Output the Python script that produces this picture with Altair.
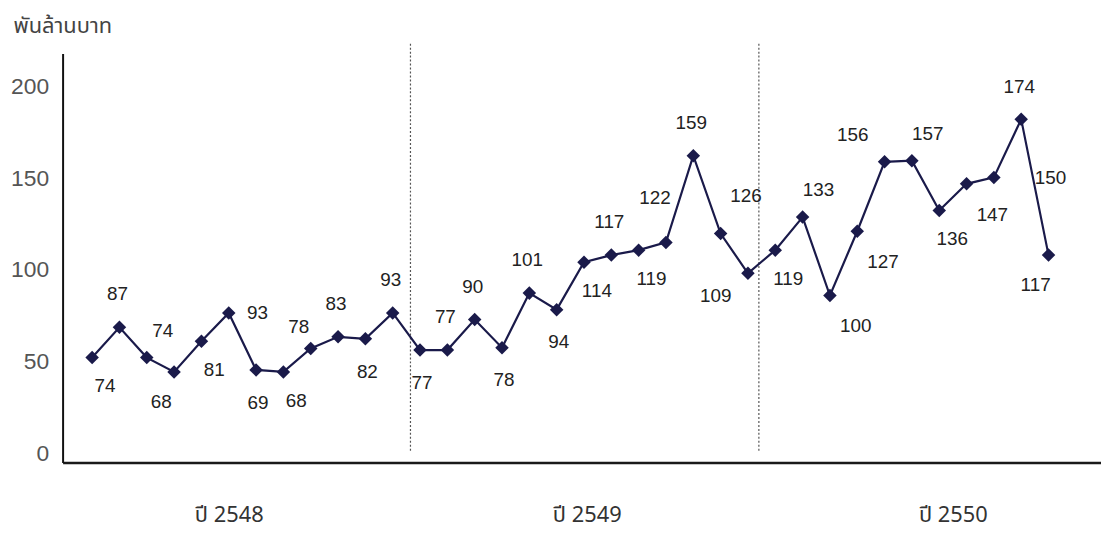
import altair as alt
import pandas as pd

# ---- data ----
months = list(range(1, 37))
plotted = [52.3, 68.8, 52.3, 44.5, 61.2, 76.6, 45.6, 44.5, 57.3, 63.6, 62.5, 76.6,
           56.4, 56.4, 73.0, 57.7, 87.4, 78.4, 104.2, 108.1, 110.8, 115.0, 162.2, 119.8,
           98.2, 110.8, 128.8, 86.1, 121.1, 158.9, 159.5, 132.4, 146.9, 150.4, 182.0, 108.1]
value_labels = [74, 87, 74, 68, 81, 93, 69, 68, 78, 83, 82, 93,
                77, 77, 90, 78, 101, 94, 114, 117, 119, 122, 159, 109,
                126, 119, 133, 100, 127, 156, 157, 136, 147, 150, 174, 117]
label_side = ["SE", "N", "NE", "SW", "SE", "E", "S", "SE", "NW", "N", "S", "N",
              "S", "N", "N", "S", "N", "S", "SE", "N", "SE", "NNW", "N", "S2",
              "N2", "SE", "NE", "SEE", "SEE", "NWW", "NE", "SE", "SEE", "E2", "N", "SW"]
years = ["ปี 2548", "ปี 2549", "ปี 2550"]
year_label_at = [6.0, 19.1, 32.5]
year_breaks = [12.65, 25.4]
y_ticks = [0, 50, 100, 150, 200]
unit_title = "พันล้านบาท"

# ---- styles ----
offsets = {
    "N": (-2, -33), "S": (2, 33), "NE": (16, -27), "NW": (-12, -22),
    "SE": (13, 29), "SW": (-13, 30), "SEE": (26, 31), "NWW": (-32, -27),
    "NNW": (-11, -45), "E": (29, 0), "E2": (57, 1), "N2": (-2, -78), "S2": (-5, 63),
}
NAVY = "#1a1a4a"
THAI_FONT = "Noto Sans Thai, Loma, Garuda, Tlwg Typo, Norasi, Liberation Sans, sans-serif"

df = pd.DataFrame({"m": months, "v": plotted, "lab": value_labels, "side": label_side})
seps = pd.DataFrame({"m": year_breaks})

xscale = alt.Scale(domain=[-0.08, 37.92], nice=False, zero=False)
yscale = alt.Scale(domain=[-4.86, 217.8], nice=False, zero=False)

label_expr = " : ".join(
    f"datum.value < {year_label_at[i] + 0.5} ? '{years[i]}'" for i in range(len(years) - 1)
) + f" : '{years[-1]}'"

x_axis = alt.Axis(values=year_label_at, labelExpr=label_expr, grid=False, ticks=False,
                  title=None, domainColor="#1a1a1a", domainWidth=2.5, labelFont=THAI_FONT,
                  labelFontSize=22, labelColor="#333", labelPadding=42)
y_axis = alt.Axis(values=y_ticks, grid=False, ticks=False, domainColor="#111", domainWidth=2,
                  labelFont="Liberation Sans", labelFontSize=23, labelColor="#555",
                  labelPadding=14, title=unit_title, titleAngle=0, titleAlign="left",
                  titleBaseline="middle", titleX=-50, titleY=-28, titleFont=THAI_FONT,
                  titleFontSize=22, titleFontWeight="normal", titleColor="#444")

base = alt.Chart(df)

line = base.mark_line(color=NAVY, strokeWidth=2.2).encode(
    x=alt.X("m:Q", scale=xscale, axis=x_axis),
    y=alt.Y("v:Q", scale=yscale, axis=y_axis),
)
points = base.mark_point(shape="diamond", filled=True, size=185, color=NAVY, opacity=1).encode(
    x=alt.X("m:Q", scale=xscale), y=alt.Y("v:Q", scale=yscale)
)

rules = alt.Chart(seps).mark_rule(color="#555", strokeDash=[2, 2], strokeWidth=1.2).encode(
    x=alt.X("m:Q", scale=xscale), y=alt.datum(1.6), y2=alt.datum(224.3)
)

text_layers = []
for side, (dx, dy) in offsets.items():
    text_layers.append(
        base.transform_filter(alt.datum.side == side).mark_text(
            font="Liberation Sans", fontSize=19, color="#222", dx=dx, dy=dy,
            align="center", baseline="middle"
        ).encode(x=alt.X("m:Q", scale=xscale), y=alt.Y("v:Q", scale=yscale), text="lab:Q")
    )

chart = alt.layer(rules, line, points, *text_layers).properties(
    width=1046, height=412,
    autosize=alt.AutoSizeParams(type="none"),
    padding={"left": 55, "top": 44, "right": 0, "bottom": 70},
).configure(background="white", view=alt.ViewConfig(strokeWidth=0, stroke="transparent"))

chart.save("out.html", embed_options={"renderer": "svg", "actions": False})
